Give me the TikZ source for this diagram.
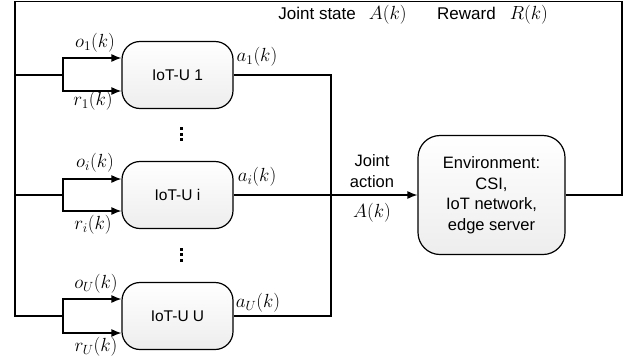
\RequirePackage{fix-cm}
\documentclass[tikz,border=0pt]{standalone}
\usepackage{fontspec}
\setmainfont{Liberation Sans}
\usepackage{amsmath}
\usetikzlibrary{arrows.meta, positioning}

\tikzset{
  wire/.style={line width=1.2pt},
  feed/.style={wire, -{Latex[length=10pt,width=8pt]}},
  agent/.style={draw, line width=1.2pt, rounded corners=18pt,
    minimum width=111pt, minimum height=67pt,
    top color=white, bottom color=gray!14},
  envbox/.style={agent, rounded corners=22pt, minimum width=147pt,
    minimum height=119pt, align=center},
  mathlbl/.style={font=\fontsize{19}{22}\selectfont},
  toplbl/.style={font=\fontsize{17}{20}\selectfont},
}

\begin{document}
\begin{tikzpicture}[x=1pt, y=-1pt, font=\fontsize{15.5}{20.5}\selectfont]
    \useasboundingbox (0,0) rectangle (636,362);
    % IoT users
    \node[agent] (u1) at (177.5,75) {IoT-U 1};
    \node[agent] (ui) at (177.5,195) {IoT-U i};
    \node[agent] (uU) at (177.5,316) {IoT-U U};
    % Environment
    \node[envbox, font=\fontsize{16.5}{20.5}\selectfont] (env) at (491.5,195) {Environment:\\CSI,\\IoT network,\\edge server};
    % Loop corners
    \coordinate (tr) at (622,1.5);
    \coordinate (tl) at (15,1.5);
    \coordinate (bl) at (15,316);
    % Forks
    \coordinate (l1) at (15,75);
    \coordinate (f1) at (63,75);
    \coordinate (li) at (15,195);
    \coordinate (fi) at (63,195);
    \coordinate (fU) at (63,316);
    % Joint action bus
    \coordinate (jU) at (331,316);
    % Feedback loop
    \draw[wire] (env.east) -| (tr) -- (tl) -- (bl) -- (fU);
    \draw[wire] (l1) -- (f1);
    \draw[wire] (li) -- (fi);
    % Observations and rewards
    \draw[feed] (f1) |- ([yshift=17pt]u1.west);
    \draw[feed] (f1) |- ([yshift=-16pt]u1.west);
    \draw[feed] (fi) |- ([yshift=16pt]ui.west);
    \draw[feed] (fi) |- ([yshift=-16pt]ui.west);
    \draw[feed] (fU) |- ([yshift=17pt]uU.west);
    \draw[feed] (fU) |- ([yshift=-17pt]uU.west);
    % Actions
    \draw[wire] (u1.east) -| (jU) -- (uU.east);
    \draw[wire] (ui.east) -- (ui.east -| jU);
    \draw[feed] (ui.east -| jU) -- (env.west);
    % Dots
    \fill (180,126.5) rectangle +(3,3);
    \fill (180,132.5) rectangle +(3,3);
    \fill (180,138) rectangle +(3,3);
    \fill (180,247.5) rectangle +(3,3);
    \fill (180,253) rectangle +(3,3);
    \fill (180,258.5) rectangle +(3,3);
    % Labels
    \node[mathlbl] (o1) at (95,43) {$o_1(k)$};
    \node[mathlbl] (r1) at (93,101) {$r_1(k)$};
    \node[mathlbl] (a1) at (257,57) {$a_1(k)$};
    \node[mathlbl] (oi) at (95,163) {$o_i(k)$};
    \node[mathlbl] (ri) at (93,225) {$r_i(k)$};
    \node[mathlbl] (ai) at (257,177) {$a_i(k)$};
    \node[mathlbl] (oU) at (96,284) {$o_U(k)$};
    \node[mathlbl] (rU) at (96,347) {$r_U(k)$};
    \node[mathlbl] (aU) at (258,303) {$a_U(k)$};
    \node[toplbl] (jstate) at (342.5,15) {Joint state\hspace{13pt}{\fontsize{19}{20}\selectfont$A(k)$}};
    \node[toplbl] (reward) at (492.5,15) {Reward\hspace{14pt}{\fontsize{19}{20}\selectfont$R(k)$}};
    \node[align=center, font=\fontsize{16.5}{20.5}\selectfont] (jact) at (372,171) {Joint\\action};
    \node[mathlbl] (ak) at (372,213) {$A(k)$};
\end{tikzpicture}
\end{document}
